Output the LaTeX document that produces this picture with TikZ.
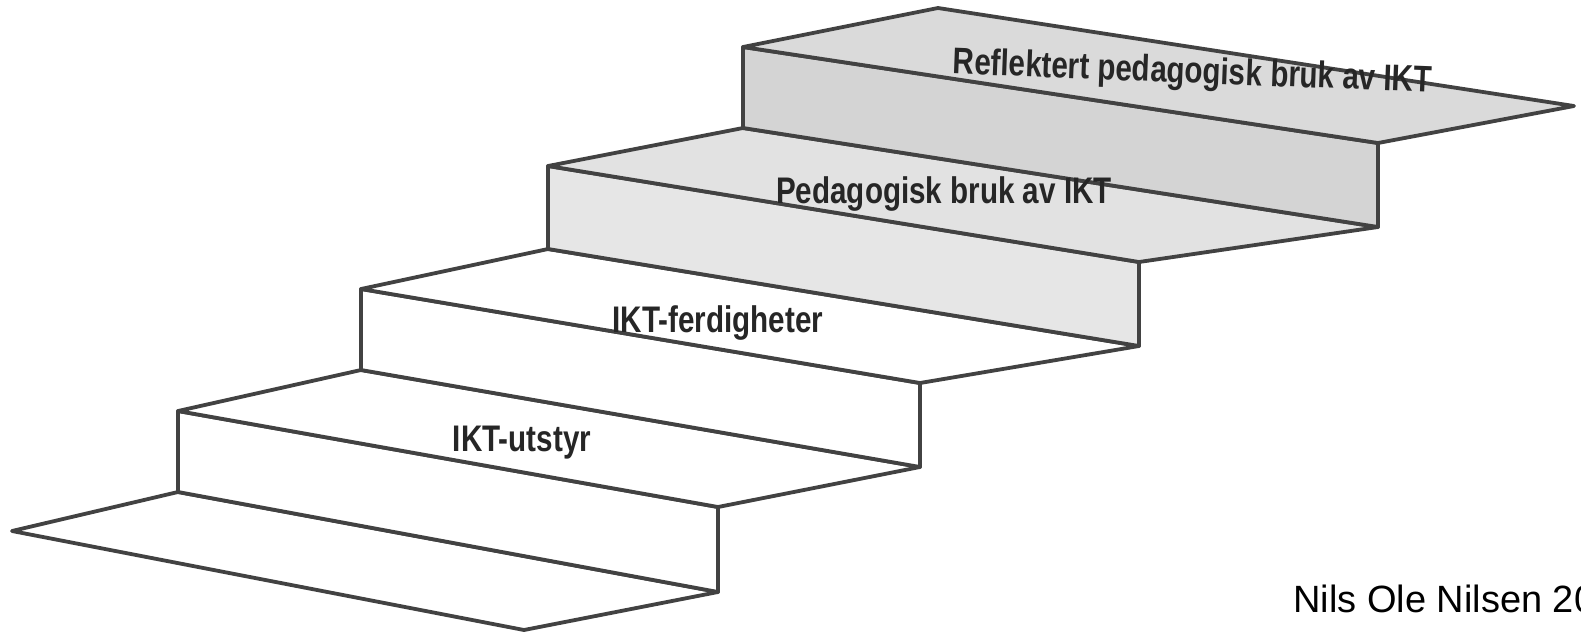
\documentclass[tikz,border=0pt]{standalone}
\usepackage{fontspec}
\setmainfont{Liberation Sans}
\newfontfamily\stepfont[FakeStretch=0.8]{Liberation Sans}
\definecolor{edgecol}{HTML}{424242}
\definecolor{riserthree}{HTML}{E6E6E6}
\definecolor{treadthree}{HTML}{E2E2E2}
\definecolor{riserfour}{HTML}{D4D4D4}
\definecolor{treadfour}{HTML}{DADADA}
\definecolor{lblcol}{HTML}{262626}
\begin{document}
\begin{tikzpicture}[x=1pt,y=-1pt,line join=round,line cap=round,
  face/.style={draw=edgecol,line width=3.8pt},
  lbl/.style={font=\stepfont\bfseries\fontsize{37}{40}\selectfont,text=lblcol,inner sep=0pt,anchor=base}]
\useasboundingbox (0,0) rectangle (1581,633);
\fill[white] (0,0) rectangle (1581,633);
% corners
\coordinate (f1) at (12,531);
\coordinate (f2) at (178,492);
\coordinate (f3) at (718,592);
\coordinate (f4) at (524,630);
\coordinate (r1a) at (178,411);
\coordinate (r1b) at (718,507);
\coordinate (t1a) at (361,370);
\coordinate (t1b) at (920,467);
\coordinate (r2a) at (361,289);
\coordinate (r2b) at (920,383);
\coordinate (t2a) at (548,249);
\coordinate (t2b) at (1139,346);
\coordinate (r3a) at (548,166);
\coordinate (r3b) at (1139,262);
\coordinate (t3a) at (743,128);
\coordinate (t3b) at (1378,227);
\coordinate (r4a) at (743,47);
\coordinate (r4b) at (1378,143);
\coordinate (t4a) at (938,8);
\coordinate (t4b) at (1574,106);
% floor
\draw[face,fill=white] (f1) -- (f2) -- (f3) -- (f4) -- cycle;
% step 1
\draw[face,fill=white] (r1a) -- (f2) -- (f3) -- (r1b) -- cycle;
\draw[face,fill=white] (r1a) -- (t1a) -- (t1b) -- (r1b) -- cycle;
% step 2
\draw[face,fill=white] (r2a) -- (t1a) -- (t1b) -- (r2b) -- cycle;
\draw[face,fill=white] (r2a) -- (t2a) -- (t2b) -- (r2b) -- cycle;
% step 3
\draw[face,fill=riserthree] (r3a) -- (t2a) -- (t2b) -- (r3b) -- cycle;
\draw[face,fill=treadthree] (r3a) -- (t3a) -- (t3b) -- (r3b) -- cycle;
% step 4
\draw[face,fill=riserfour] (r4a) -- (t3a) -- (t3b) -- (r4b) -- cycle;
\draw[face,fill=treadfour] (r4a) -- (t4a) -- (t4b) -- (r4b) -- cycle;
% labels
\node[lbl] (utstyr) at (522,451) {IKT-utstyr};
\node[lbl] (ferdig) at (718,332) {IKT-ferdigheter};
\node[lbl] (pedbruk) at (944,203) {Pedagogisk bruk av IKT};
\node[lbl,rotate=-2.2] (refl) at (1192,83) {Reflektert pedagogisk bruk av IKT};
\node[font=\fontsize{38}{42}\selectfont,inner sep=0pt,anchor=base west] (author) at (1293,612) {Nils Ole Nilsen 20};
\end{tikzpicture}
\end{document}
